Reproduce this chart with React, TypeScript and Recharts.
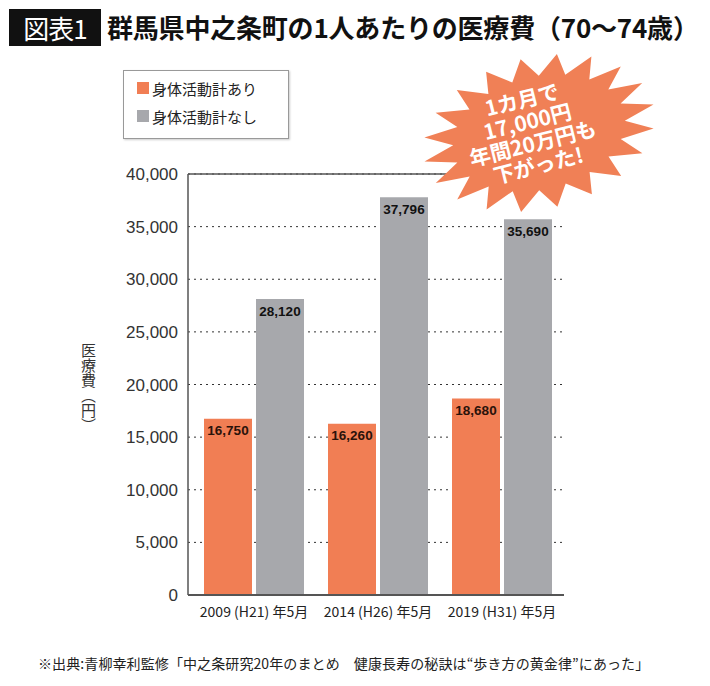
import React from "react";
import { BarChart, Bar, XAxis, YAxis, CartesianGrid, LabelList, ReferenceLine } from "recharts";

const categories = ["2009 (H21) 年5月", "2014 (H26) 年5月", "2019 (H31) 年5月"];
const withActivity = [16750, 16260, 18680];
const withoutActivity = [28120, 37796, 35690];
const yTicks = [0, 5000, 10000, 15000, 20000, 25000, 30000, 35000, 40000];
const seriesNames = ["身体活動計あり", "身体活動計なし"];
const burstLines = ["1カ月で", "17,000円", "年間20万円も", "下がった!"];

const data = categories.map((c, i) => ({ name: c, a: withActivity[i], b: withoutActivity[i] }));

const ORANGE = "#F17E54";
const GRAY = "#A7A8AC";
const JP = "'Noto Sans CJK JP', 'Noto Sans', sans-serif";
const NUM = "'Liberation Sans', Arial, sans-serif";

const fmt = (v: any) => Number(v).toLocaleString("en-US");

function burstPoints(cx: number, cy: number, rx: number, ry: number, n: number, rot: number) {
  const pts: string[] = [];
  const r = (rot * Math.PI) / 180;
  for (let i = 0; i < n * 2; i++) {
    const t = (i / (n * 2)) * Math.PI * 2;
    const k = i % 2 === 0 ? 1 : 0.74;
    const x0 = Math.cos(t) * rx * k;
    const y0 = Math.sin(t) * ry * k;
    const x = cx + x0 * Math.cos(r) - y0 * Math.sin(r);
    const y = cy + x0 * Math.sin(r) + y0 * Math.cos(r);
    pts.push(`${x.toFixed(1)},${y.toFixed(1)}`);
  }
  return pts.join(" ");
}

export default function App() {
  return (
    <div style={{ position: "relative", width: 710, height: 686, background: "#fff", fontFamily: JP }}>
      <style>{`body{margin:0}`}</style>
      {/* Title */}
      <div style={{ position: "absolute", left: 9, top: 9, width: 92, height: 37, background: "#111", color: "#fff", fontSize: 26, lineHeight: "37px", textAlign: "center", letterSpacing: -1 }}>
        図表1
      </div>
      <div style={{ position: "absolute", left: 107, top: 8, height: 40, color: "#111", fontSize: 26, lineHeight: "38px", fontWeight: 700, whiteSpace: "nowrap", letterSpacing: -0.2 }}>
        群馬県中之条町の1人あたりの医療費（70〜74歳）
      </div>

      <div style={{ position: "absolute", left: 0, top: 0 }}>
        <BarChart
          width={710}
          height={686}
          data={data}
          margin={{ top: 174, right: 146, bottom: 61, left: 108 }}
          barGap={4}
          barSize={48}
        >
          <CartesianGrid horizontal vertical={false} stroke="#333" strokeDasharray="2 4" />
          <ReferenceLine y={40000} stroke="#555" strokeWidth={1.5} ifOverflow="extendDomain" />
          <XAxis
            dataKey="name"
            tickLine={false}
            axisLine={{ stroke: "#555", strokeWidth: 2 }}
            padding={{ left: 4, right: 0 }}
            tick={{ fontSize: 14, fill: "#222", fontFamily: JP }}
            tickMargin={6}
            height={30}
            interval={0}
          />
          <YAxis
            domain={[0, 40000]}
            ticks={yTicks}
            tickFormatter={fmt}
            tickLine={false}
            axisLine={{ stroke: "#555", strokeWidth: 1.5 }}
            tick={{ fontSize: 17, fill: "#333", fontFamily: NUM }}
            tickMargin={4}
            width={80}
          />
          <Bar dataKey="a" fill={ORANGE} isAnimationActive={false}>
            <LabelList dataKey="a" position="insideTop" formatter={fmt} fill="#2a120a" fontSize={13.5} fontWeight={700} fontFamily={NUM} offset={7} />
          </Bar>
          <Bar dataKey="b" fill={GRAY} isAnimationActive={false}>
            <LabelList dataKey="b" position="insideTop" formatter={fmt} fill="#111" fontSize={13.5} fontWeight={700} fontFamily={NUM} offset={7} />
          </Bar>
        </BarChart>
      </div>

      {/* Y axis title */}
      <div style={{ position: "absolute", left: 78, top: 343, writingMode: "vertical-rl", fontSize: 15, color: "#333", letterSpacing: 0 }}>
        医療費（円）
      </div>

      {/* Legend */}
      <div style={{ position: "absolute", left: 123, top: 70, width: 164, height: 67, border: "1px solid #999", boxShadow: "1px 1px 2px #ccc", background: "#fff" }}>
        {seriesNames.map((n, i) => (
          <div key={n} style={{ position: "absolute", left: 13, top: 6 + i * 28, height: 22, display: "flex", alignItems: "center", fontSize: 15, color: "#222" }}>
            <span style={{ display: "inline-block", width: 12, height: 12, background: i === 0 ? ORANGE : GRAY, marginRight: 3 }} />
            {n}
          </div>
        ))}
      </div>

      {/* Starburst */}
      <svg style={{ position: "absolute", left: 0, top: 0 }} width={710} height={686}>
        <polygon points={burstPoints(539, 133, 118, 76, 20, -14)} fill="#F08056" />
        <g transform="rotate(-14 530 132)">
          {burstLines.map((t, i) => (
            <text key={t} x={530} y={101 + i * 22.5} textAnchor="middle" fill="#fff" fontSize={21} fontWeight={700} fontFamily={JP} dominantBaseline="middle">
              {t}
            </text>
          ))}
        </g>
      </svg>

      {/* Footer */}
      <div style={{ position: "absolute", left: 38, top: 653, fontSize: 14, color: "#222", whiteSpace: "nowrap", letterSpacing: 0.1 }}>
        ※出典:青柳幸利監修「中之条研究20年のまとめ　健康長寿の秘訣は“歩き方の黄金律”にあった」
      </div>
    </div>
  );
}
